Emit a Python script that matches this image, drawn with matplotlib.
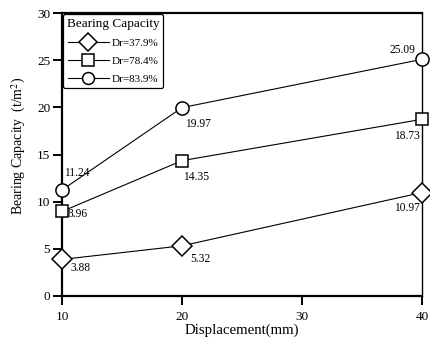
import matplotlib
matplotlib.use("Agg")
import matplotlib.pyplot as plt

plt.rcParams['font.family'] = ['Liberation Serif', 'DejaVu Serif']
plt.rcParams['mathtext.fontset'] = 'stix'

displacement = [10, 20, 40]
series_names = ["Dr=37.9%", "Dr=78.4%", "Dr=83.9%"]
dr379 = [3.88, 5.32, 10.97]
dr784 = [8.96, 14.35, 18.73]
dr839 = [11.24, 19.97, 25.09]
markers = ["D", "s", "o"]
marker_sizes = [10, 9, 9.5]

# label offsets (points) per series and point
offsets = [
    [(6, -6.5), (6, -9.5), (-1.5, -11.5)],
    [(4, -2), (0.5, -12), (-1.5, -12)],
    [(1.5, 12), (2, -11.5), (-5, 7)],
]
aligns = [
    ["left", "left", "right"],
    ["left", "left", "right"],
    ["left", "left", "right"],
]

fig = plt.figure(figsize=(4.3, 3.4), dpi=100)
ax = fig.add_axes([62/430, 1 - 296/340, (422-62)/430, (296-13)/340])

for name, vals, m, ms, offs, als in zip(series_names, [dr379, dr784, dr839], markers, marker_sizes, offsets, aligns):
    ax.plot(displacement, vals, color='black', lw=0.8, marker=m, ms=ms,
            mfc='white', mec='black', mew=1.1, label=name, clip_on=False, zorder=3)
    for x, y, o, a in zip(displacement, vals, offs, als):
        ax.annotate(f"{y:.2f}", (x, y), xytext=o, textcoords='offset points',
                    ha=a, va='center', fontsize=8.3)

ax.set_xlim(10, 40)
ax.set_ylim(0, 30)
ax.set_xticks([10, 20, 30, 40])
ax.set_yticks([0, 5, 10, 15, 20, 25, 30])
ax.tick_params(direction='out', length=6.5, width=1.4, labelsize=9.5)
ax.tick_params(axis='x', pad=4)
ax.tick_params(axis='y', pad=2)
for k in ['left', 'bottom', 'top']:
    ax.spines[k].set_linewidth(1.6)
ax.spines['right'].set_linewidth(1.0)
ax.set_xlabel("Displacement(mm)", fontsize=10.7, labelpad=1)
ax.set_ylabel("Bearing Capacity  (t/m$^2$)", fontsize=10)
ax.yaxis.set_label_coords(-0.095, 0.53)

leg = ax.legend(title="Bearing Capacity", loc='upper left', fontsize=8, title_fontsize=9.5,
                frameon=True, fancybox=True, edgecolor='black', framealpha=1,
                handlelength=3.7, borderaxespad=0.0, labelspacing=0.75, borderpad=0.35,
                handletextpad=0.3, markerscale=0.9)
leg.get_frame().set_linewidth(0.9)
leg.set_bbox_to_anchor((0.003, 0.997), transform=ax.transAxes)

fig.savefig("out.png", dpi=100)
